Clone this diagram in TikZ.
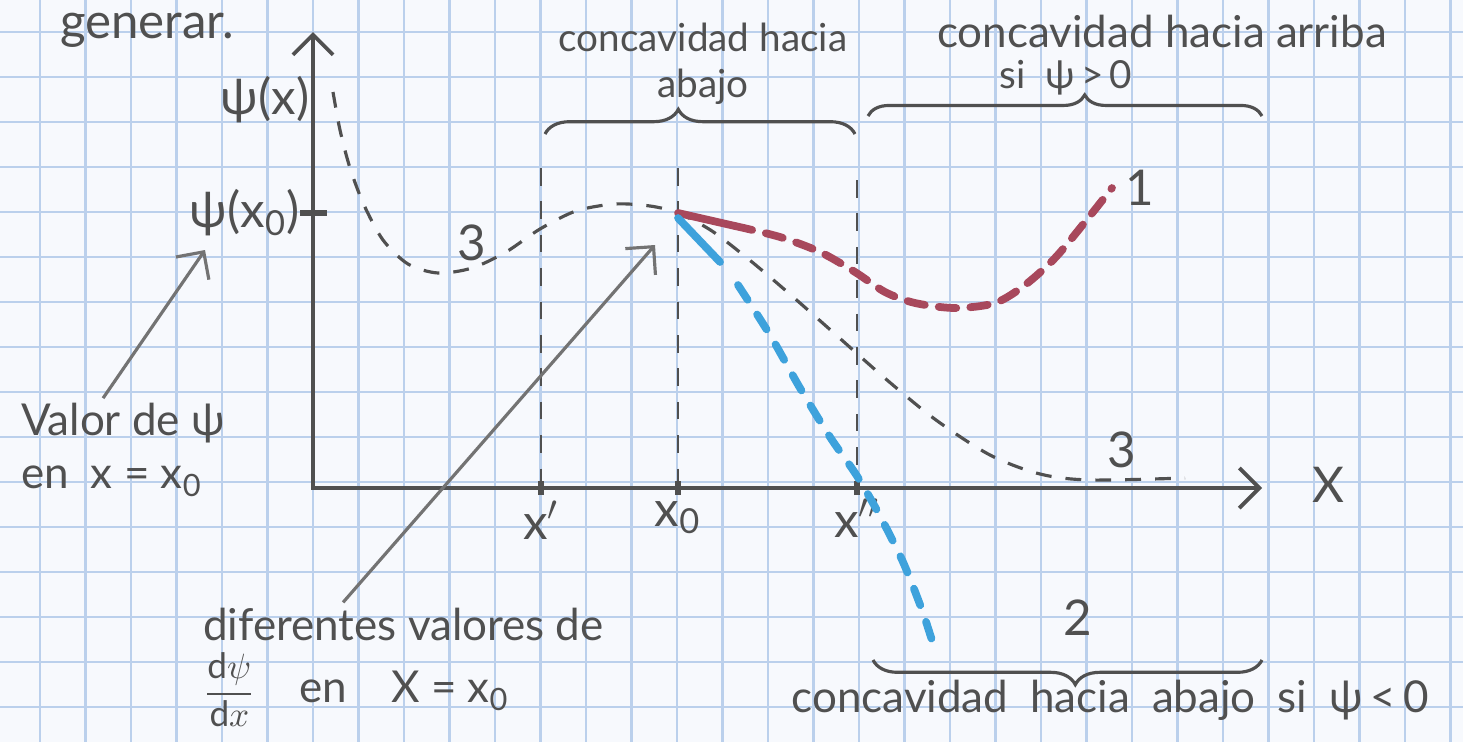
\documentclass[tikz,border=0pt]{standalone}
\usepackage{fontspec}
\setmainfont{Lato}
\usetikzlibrary{arrows.meta, positioning, decorations.pathreplacing}
\definecolor{cpencil}{HTML}{505050}
\definecolor{cred}{HTML}{A8485C}
\definecolor{cblue}{HTML}{3EA2DC}
\definecolor{cgrid}{HTML}{BBD0EC}
\definecolor{cpaper}{HTML}{F7F9FD}
\tikzset{
  every picture/.style={line width=1pt, font=\fontsize{12.5}{15}\selectfont},
  gridline/.style={draw=cgrid, line width=0.7pt},
  axis/.style={draw=cpencil, line width=1.1pt, {Straight Barb[length=2mm, width=4mm]}-{Straight Barb[length=2mm, width=4mm]}},
  guide/.style={draw=cpencil, line width=0.8pt, dash pattern=on 5pt off 4.5pt},
  tickmark/.style={draw=cpencil, line width=1.5pt},
  hand/.style={text=cpencil, inner sep=1pt},
  big/.style={font=\fontsize{14}{16}\selectfont},
  small/.style={font=\fontsize{11}{13}\selectfont},
  curly/.style={draw=cpencil, line width=0.9pt, decorate, decoration={brace, amplitude=#1}},
  curly/.default=5pt,
  pointer/.style={draw=cpencil!80, line width=0.9pt, -{Straight Barb[length=2mm, width=4mm]}},
  sol3/.style={draw=cpencil, line width=0.9pt, dash pattern=on 4.5pt off 4pt},
  sol1/.style={draw=cred, line width=2.2pt, line cap=round, dash pattern=on 5pt off 4pt},
  sol2/.style={draw=cblue, line width=2.2pt, line cap=round, dash pattern=on 5pt off 5pt},
}

\begin{document}
\begin{tikzpicture}[x=0.01cm, y=-0.01cm]
  \useasboundingbox (0,0) rectangle (1463,742);
  \fill[cpaper] (0,0) rectangle (1463,742);
  \foreach \gx in {40,85.5,...,1455}
    \draw[gridline] (\gx,0) -- (\gx,742);
  \foreach \gy in {32,77,...,740}
    \draw[gridline] (0,\gy) -- (1463,\gy);

  \coordinate (ytop) at (313,32);
  \coordinate (xend) at (1262,488);
  \coordinate (x1) at (541,488);
  \coordinate (x0) at (678,488);
  \coordinate (x2) at (857,488);
  \coordinate (p0) at (678,213);

  \node[hand, big, anchor=base west] (gen) at (55,38) {generar.};

  % axes
  \draw[axis] (ytop) |- (xend);
  \draw[tickmark] (300,213) -- (327,213);
  \foreach \c in {x1,x0,x2}
    \draw[tickmark] ([yshift=-0.07cm]\c) -- ([yshift=0.07cm]\c);
  \draw[guide] (541,168) -- (x1);
  \draw[guide] (678,168) -- (x0);
  \draw[guide] (857,180) -- (x2);

  \node[hand, big] (psix) at (265,100) {ψ(x)};
  \node[hand, big] (psix0) at (245,213) {ψ(x\textsubscript{0})};
  \node[hand, big] (xlab) at (1328,485) {X};
  \node[hand, big, below=0.08cm of x1] (lx1) {x$'$};
  \node[hand, big, below=0.08cm of x0] (lx0) {x\textsubscript{0}};
  \node[hand, big, below=0.06cm of x2] (lx2) {x$''$};

  % braces
  \draw[curly=7pt] (545,134) -- (855,134) [decoration={aspect=0.43}];
  \draw[curly=6pt] (868,116) -- (1262,116) [decoration={aspect=0.55}];
  \draw[curly=7pt] (1262,660) -- (873,660) [decoration={aspect=0.48}];
  \node[hand, small, align=center] (abajo) at (703,64) {concavidad hacia\\abajo};
  \node[hand] (arriba) at (1162,31) {concavidad hacia arriba};
  \node[hand, small, inner sep=0pt] (sipos) at (1066,78) {si\enspace ψ\,>\,0};
  \node[hand] (abajoneg) at (1110,700) {concavidad\enspace hacia\enspace abajo\enspace si\enspace ψ\,<\,0};

  % curves
  \draw[sol3] plot[smooth] coordinates {(333,92) (340,130) (350,168) (364,205) (383,240)
    (408,264) (438,273) (472,268) (506,252) (540,229) (576,211) (615,204) (650,206) (678,213)
    (712,231) (752,262) (792,296) (835,334) (887,380) (936,420) (990,455) (1040,474)
    (1090,480) (1185,478)};
  \draw[cred, line width=2.2pt, line cap=round] (p0) -- (735,226);
  \draw[sol1] plot[smooth] coordinates {(735,226) (780,237) (820,252) (855,272) (885,292)
    (915,303) (955,308) (995,303) (1025,285) (1055,258) (1085,222) (1112,188)};
  \draw[cblue, line width=2.2pt, line cap=round] (678,218) -- (720,262);
  \draw[sol2] plot[smooth] coordinates {(738,285) (770,335) (800,388) (830,437) (857,476)
    (880,516) (903,562) (922,610) (935,650)};
  \node[hand, big] (n3a) at (472,243) {3};
  \node[hand, big] (n3b) at (1122,450) {3};
  \node[hand, big] (n1) at (1140,188) {1};
  \node[hand, big] (n2) at (1078,618) {2};

  % notes
  \coordinate (tipA) at (205,250);
  \coordinate (tipB) at (655,245);
  \node[hand, align=left, anchor=west] (valor) at (16,450) {Valor de ψ\\en\enspace x = x\textsubscript{0}};
  \node[hand, anchor=west] (dif) at (198,624) {diferentes valores de};
  \node[hand, anchor=west] (dpsi) at (198,690) {{\fontsize{10}{12}\selectfont$\displaystyle\frac{\mathrm{d}\psi}{\mathrm{d}x}$}\quad en\quad X = x\textsubscript{0}};
  \draw[pointer] ([xshift=-0.2cm]valor.north) -- (tipA);
  \draw[pointer] ([xshift=1.45cm]dif.north west) -- (tipB);
\end{tikzpicture}
\end{document}
